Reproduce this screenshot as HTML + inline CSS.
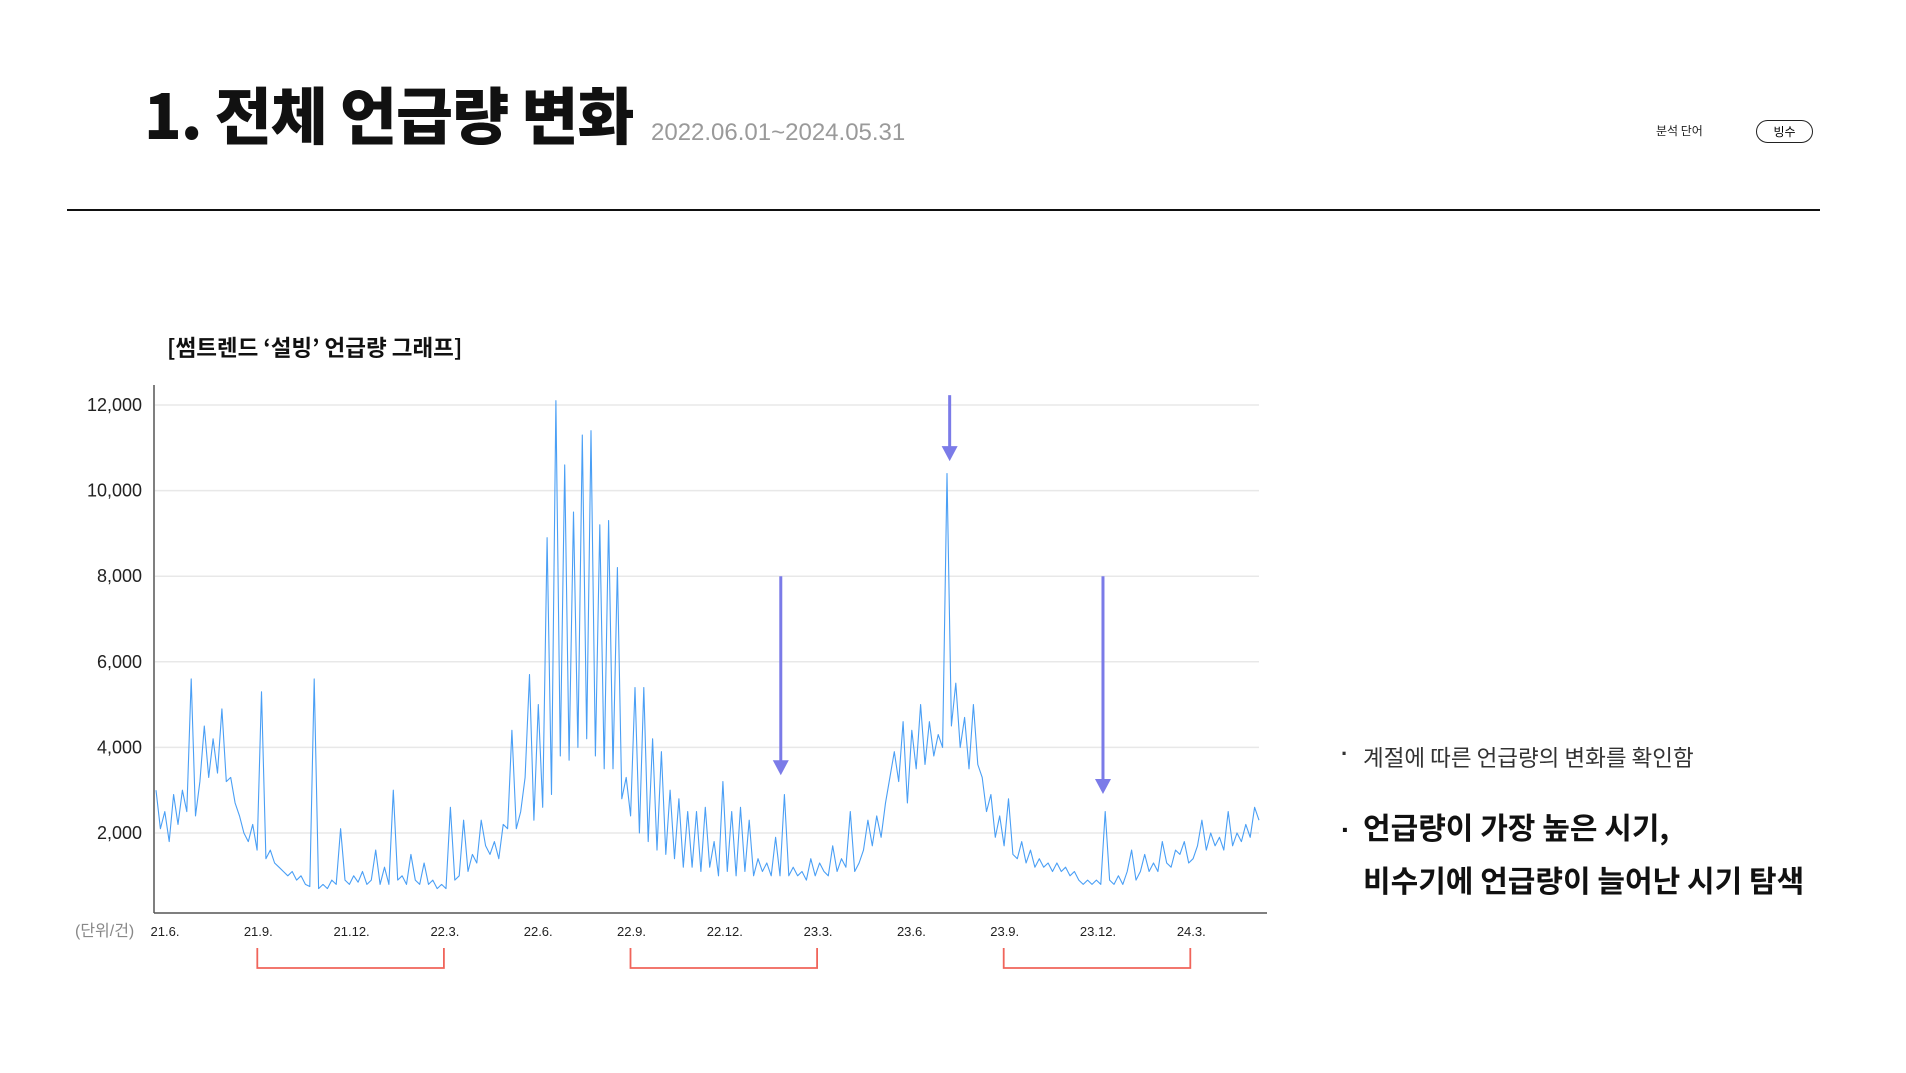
<!DOCTYPE html>
<html><head><meta charset="utf-8">
<style>
html,body{margin:0;padding:0;background:#fff;}
body{width:1906px;height:1073px;position:relative;overflow:hidden;font-family:"Liberation Sans","Noto Sans CJK KR",sans-serif;}
.abs{position:absolute;white-space:nowrap;}
.k{font-family:"Noto Sans CJK KR",sans-serif;}
</style></head>
<body>
<div class="abs k" style="left:144px;top:72px;font-size:62px;font-weight:900;letter-spacing:-1px;color:#111;line-height:80px;">1. 전체 언급량 변화</div>
<div class="abs" style="left:651px;top:118px;font-size:24px;color:#9a9a9a;line-height:30px;">2022.06.01~2024.05.31</div>
<div class="abs k" style="left:1656px;top:122px;font-size:12px;color:#222;">분석 단어</div>
<div class="abs k" style="left:1756px;top:120px;width:55px;height:21px;border:1.5px solid #222;border-radius:12px;font-size:12px;text-align:center;line-height:21px;">빙수</div>
<div class="abs" style="left:67px;top:209px;width:1753px;height:2px;background:#111;"></div>
<div class="abs k" style="left:167px;top:331px;font-size:22.5px;font-weight:700;color:#111;">[썸트렌드 ‘설빙’ 언급량 그래프]</div>

<svg class="abs" style="left:0;top:0" width="1906" height="1073">
<g id="grid"></g><g id="ylabels"></g><g id="xlabels"></g>
<polyline id="series" fill="none" stroke="#4a9ff5" stroke-width="1.1" stroke-linejoin="round"/>
<line x1="154" y1="385" x2="154" y2="913" stroke="#555" stroke-width="1.5"/>
<line x1="154" y1="913" x2="1267" y2="913" stroke="#555" stroke-width="1.5"/>
<text x="75" y="936" font-size="16" fill="#888" font-family="Liberation Sans,Noto Sans CJK KR,sans-serif">(단위/건)</text>
<g id="brackets" stroke="#f0645a" stroke-width="1.8" fill="none"></g>
<g id="arrows"></g>
</svg>

<div class="abs" style="left:1341px;top:741px;font-size:22px;font-weight:700;color:#333;">·</div>
<div class="abs k" style="left:1363px;top:741px;font-size:22.5px;color:#333;">계절에 따른 언급량의 변화를 확인함</div>
<div class="abs" style="left:1341px;top:814px;font-size:28px;color:#111;font-weight:700;">·</div>
<div class="abs k" style="left:1363px;top:800px;font-size:30px;font-weight:700;color:#111;line-height:53px;">언급량이 가장 높은 시기,<br>비수기에 언급량이 늘어난 시기 탐색</div>

<script>
const yTicks=[2000,4000,6000,8000,10000,12000];
const yTickLabels=["2,000","4,000","6,000","8,000","10,000","12,000"];
const xTickLabels=["21.6.","21.9.","21.12.","22.3.","22.6.","22.9.","22.12.","23.3.","23.6.","23.9.","23.12.","24.3."];
const xTickMonths=[0,3,6,9,12,15,18,21,24,27,30,33];
const bracketMonths=[[3,9],[15,21],[27,33]];
const arrowMonths=[19.8,25.23,30.16];
const arrowFrom=[8000,12230,8000];
const arrowTo=[3350,10690,2910];
const values=[
3000,2100,2500,1800,2900,2200,3000,
2500,5600,2400,3200,4500,3300,4200,
3400,4900,3200,3300,2700,2400,2000,
1800,2200,1600,5300,1400,1600,1300,
1200,1100,1000,1100,900,1000,800,
750,5600,700,800,700,900,800,
2100,900,800,1000,850,1100,800,
900,1600,800,1200,800,3000,900,
1000,800,1500,900,800,1300,800,
900,700,800,700,2600,900,1000,
2300,1100,1500,1300,2300,1700,1500,
1800,1400,2200,2100,4400,2100,2500,
3300,5700,2300,5000,2600,8900,2900,
12100,3800,10600,3700,9500,4000,11300,
4200,11400,3800,9200,3500,9300,3500,
8200,2800,3300,2400,5400,2000,5400,
1800,4200,1600,3900,1500,3000,1400,
2800,1200,2500,1200,2500,1100,2600,
1200,1800,1000,3200,1100,2500,1000,
2600,1100,2300,1000,1400,1100,1300,
1000,1900,1000,2900,1000,1200,1000,
1100,900,1400,1000,1300,1100,1000,
1700,1100,1400,1200,2500,1100,1300,
1600,2300,1700,2400,1900,2700,3300,
3900,3200,4600,2700,4400,3500,5000,
3600,4600,3800,4300,4000,10400,4500,
5500,4000,4700,3500,5000,3600,3300,
2500,2900,1900,2400,1700,2800,1500,
1400,1800,1300,1600,1200,1400,1200,
1300,1100,1300,1100,1200,1000,1100,
900,800,900,800,900,800,2500,
900,800,1000,800,1100,1600,900,
1100,1500,1100,1300,1100,1800,1300,
1200,1600,1500,1800,1300,1400,1700,
2300,1600,2000,1700,1900,1600,2500,
1700,2000,1800,2200,1900,2600,2300];

const NS="http://www.w3.org/2000/svg";
const X0=156,X1=1259;
function yScale(v){return 918.6-v*0.0428;}
function xIdx(i){return X0+i*(X1-X0)/(values.length-1);}
function xMonth(m){return 165+m*31.1;}
function mk(tag,attrs,parent){const e=document.createElementNS(NS,tag);for(const k in attrs)e.setAttribute(k,attrs[k]);parent.appendChild(e);return e;}

const grid=document.getElementById('grid'),yl=document.getElementById('ylabels'),xl=document.getElementById('xlabels');
yTicks.forEach((t,i)=>{
  const g=mk('line',{x1:155,x2:1259,y1:yScale(t),y2:yScale(t),stroke:'#e8e8e8','stroke-width':1.5},grid);
  
  
  const tx=mk('text',{x:142,y:yScale(t)+6,'text-anchor':'end','font-size':18,fill:'#222','font-family':'Liberation Sans,sans-serif'},yl);
  tx.textContent=yTickLabels[i];
  
  
});
xTickLabels.forEach((l,i)=>{
  const tx=mk('text',{x:xMonth(xTickMonths[i]),y:936,'text-anchor':'middle','font-size':13,fill:'#222','font-family':'Liberation Sans,sans-serif'},xl);
  tx.textContent=l;
  
  
});
document.getElementById('series').setAttribute('points',values.map((v,i)=>xIdx(i).toFixed(1)+','+yScale(v).toFixed(1)).join(' '));
const br=document.getElementById('brackets');
bracketMonths.forEach(b=>{
  const a=xMonth(b[0])-1,c=xMonth(b[1])-1;
  const p=mk('path',{d:`M${a},948 V968 H${c} V948`},br);
  
  
});
const ar=document.getElementById('arrows');
arrowMonths.forEach((m,i)=>{
  const x=xMonth(m),y1=yScale(arrowFrom[i]),y2=yScale(arrowTo[i]);
  const g=mk('g',{},ar);
  
  
  mk('line',{x1:x,x2:x,y1:y1,y2:y2-14,stroke:'#7b7be8','stroke-width':3},g);
  mk('polygon',{points:`${x-8},${y2-15} ${x+8},${y2-15} ${x},${y2}`,fill:'#7b7be8'},g);
});
</script>
</body></html>
